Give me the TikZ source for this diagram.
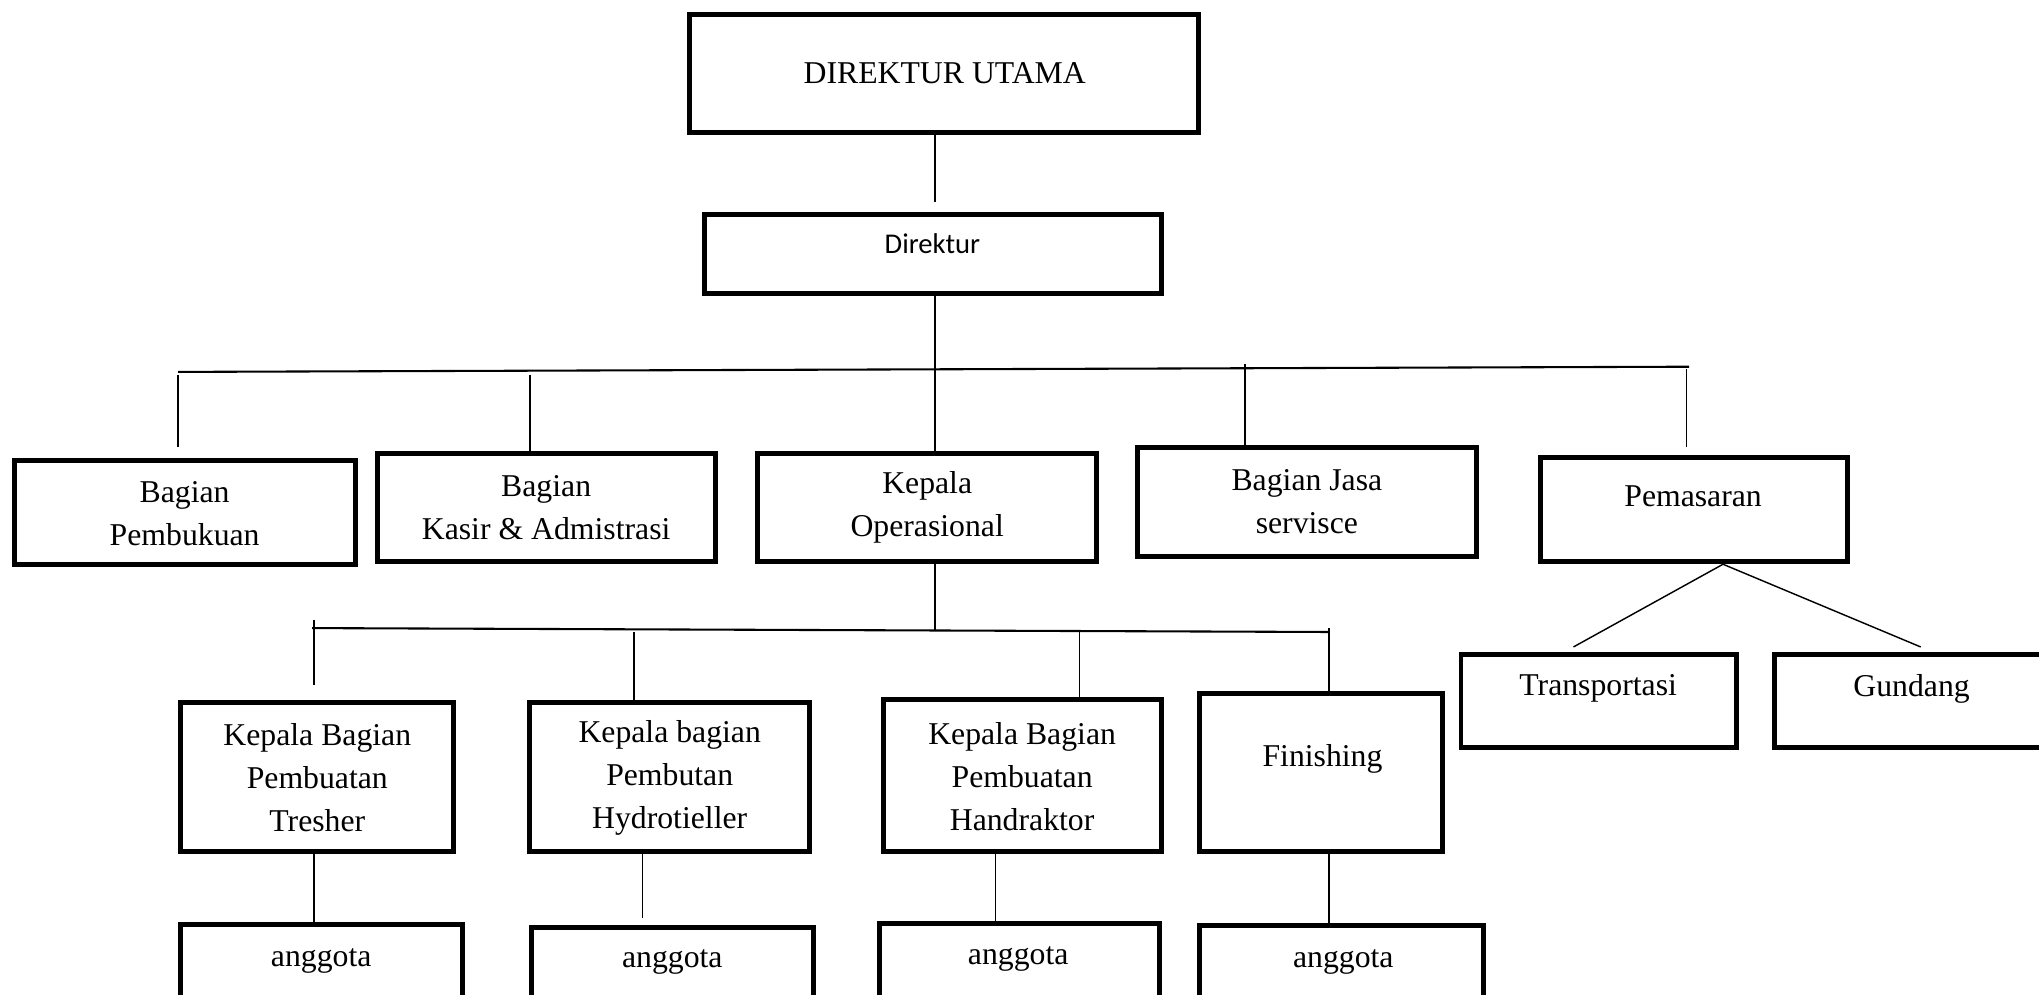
\documentclass[tikz,border=0pt]{standalone}
\usepackage{fontspec}
\setmainfont{Liberation Serif}
\newfontfamily\calibrifont{Carlito}
\begin{document}
\begin{tikzpicture}[x=1pt,y=-1pt,
  box/.style={draw, line width=3.8pt, inner sep=0pt},
  txt/.style={font=\fontsize{24.4}{33}\selectfont, align=center, inner sep=0pt},
  link/.style={line width=1.1pt},
  bus/.style={line width=1.6pt}]
\useasboundingbox (0,0) rectangle (1568,765);

% boxes
\node[box, minimum width=391, minimum height=91] (utama) at (726,56.5) {};
\node[box, minimum width=352, minimum height=61] (dir) at (717.5,195.5) {};
\node[box, minimum width=262, minimum height=80] (pemb) at (142.5,394) {};
\node[box, minimum width=260, minimum height=83] (kasir) at (420.5,390.5) {};
\node[box, minimum width=261, minimum height=83] (kop) at (713,390.5) {};
\node[box, minimum width=261, minimum height=84] (jasa) at (1005,386) {};
\node[box, minimum width=236, minimum height=80] (pemas) at (1302.5,392) {};
\node[box, minimum width=212, minimum height=72] (trans) at (1229.5,539) {};
\node[box, minimum width=211, minimum height=72] (gund) at (1470,539) {};
\node[box, minimum width=210, minimum height=115] (tresh) at (243.5,597.5) {};
\node[box, minimum width=215, minimum height=115] (hydro) at (515,597.5) {};
\node[box, minimum width=214, minimum height=117] (handr) at (786.5,596.5) {};
\node[box, minimum width=187, minimum height=122] (fin) at (1016,594) {};
\node[box, minimum width=217, minimum height=72] (ag1) at (247,747) {};
\node[box, minimum width=217, minimum height=72] (ag2) at (517,749) {};
\node[box, minimum width=215, minimum height=72] (ag3) at (784,746) {};
\node[box, minimum width=218, minimum height=72] (ag4) at (1031.5,748) {};

% texts
\node[txt] (t-utama) at (726.5,56) {DIREKTUR UTAMA};
\node[font=\calibrifont\fontsize{22}{26}\selectfont, inner sep=0pt, anchor=base] (t-dir) at (717,194.7) {Direktur};
\node[txt] (t-pemb) at (142,395) {Bagian\\Pembukuan};
\node[txt] (t-kasir) at (420,390.5) {Bagian\\Kasir \& Admistrasi};
\node[txt] (t-kop) at (713,390.5) {Kepala\\Operasional};
\node[txt] (t-jasa) at (1005,386) {Bagian Jasa\\servisce};
\node[txt] (t-pemas) at (1302,382) {Pemasaran};
\node[txt] (t-trans) at (1229,529.5) {Transportasi};
\node[txt] (t-gund) at (1470,529.5) {Gundang};
\node[txt] (t-tresh) at (244,598) {Kepala Bagian\\Pembuatan\\Tresher};
\node[txt] (t-hydro) at (515,598.5) {Kepala bagian\\Pembutan\\Hydrotieller};
\node[txt] (t-handr) at (786,597) {Kepala Bagian\\Pembuatan\\Handraktor};
\node[txt] (t-fin) at (1017,583.5) {Finishing};
\node[txt, anchor=base] (t-ag1) at (247,743) {anggota};
\node[txt, anchor=base] (t-ag2) at (517,744) {anggota};
\node[txt, anchor=base] (t-ag3) at (783,742) {anggota};
\node[txt, anchor=base] (t-ag4) at (1033,744) {anggota};

% connectors: top
\coordinate (ctop) at (719,155);
\coordinate (spine) at (719,0);
\draw[link] (utama.south -| ctop) -- (ctop);
\draw[link] (dir.south -| spine) -- (kop.north -| spine);

% bus 1
\coordinate (b1l) at (137,286);
\coordinate (b1r) at (1299,282);
\draw[bus] (b1l) -- (b1r);
\coordinate (d1a) at (137,288);
\coordinate (d1b) at (137,344);
\draw[link] (d1a) -- (d1b);
\coordinate (d2a) at (407.5,288);
\draw[link] (d2a) -- (kasir.north -| d2a);
\coordinate (d3a) at (957.5,280);
\draw[link] (d3a) -- (jasa.north -| d3a);
\coordinate (d4a) at (1297,284);
\coordinate (d4b) at (1297,344);
\draw[link] (d4a) -- (d4b);

% pemasaran fan
\coordinate (apex) at (1325,0);
\coordinate (f1) at (1210,497.5);
\coordinate (f2) at (1477,497.5);
\draw[link] (pemas.south -| apex) -- (f1);
\draw[link] (pemas.south -| apex) -- (f2);

% bus 2
\coordinate (b2m) at (719,484.5);
\draw[link] (kop.south -| spine) -- (b2m);
\coordinate (b2l) at (240,483);
\coordinate (b2r) at (1022,486);
\draw[bus] (b2l) -- (b2r);
\coordinate (e1a) at (241.5,476.7);
\coordinate (e1b) at (241.5,527);
\draw[link] (e1a) -- (e1b);
\coordinate (e2a) at (487.6,486);
\draw[link] (e2a) -- (hydro.north -| e2a);
\coordinate (e3a) at (830,486);
\draw[link] (e3a) -- (handr.north -| e3a);
\coordinate (e4a) at (1022,483);
\draw[link] (e4a) -- (fin.north -| e4a);

% row 3 to row 4
\coordinate (g1) at (241.6,0);
\draw[link] (tresh.south -| g1) -- (ag1.north -| g1);
\coordinate (g2) at (494,706);
\draw[link] (hydro.south -| g2) -- (g2);
\coordinate (g3) at (765.5,0);
\draw[link] (handr.south -| g3) -- (ag3.north -| g3);
\coordinate (g4) at (1022,0);
\draw[link] (fin.south -| g4) -- (ag4.north -| g4);
\end{tikzpicture}
\end{document}
